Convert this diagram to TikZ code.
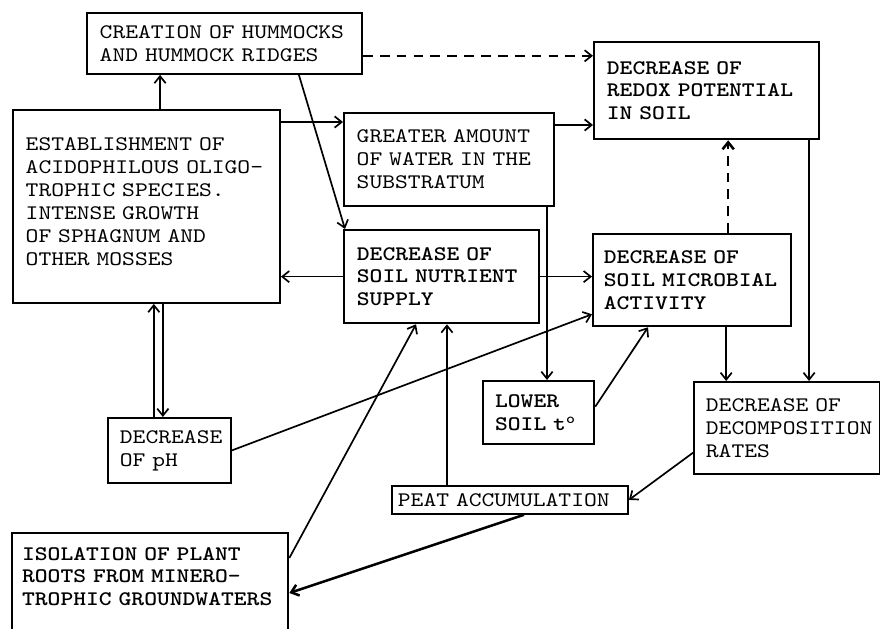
\documentclass[tikz,border=0pt]{standalone}
\usepackage{fontspec}
\setmonofont{lmmono10-regular.otf}[BoldFont=lmmonolt10-bold.otf,FakeStretch=1.18]
\usepackage{tikz}
\usetikzlibrary{arrows,arrows.meta,calc}

\begin{document}
\begin{tikzpicture}[x=0.025cm, y=-0.025cm, >={Straight Barb[length=5pt,width=8pt]},
        plain/.style={draw=black,line width=1.3pt,anchor=north west,align=left,
          inner xsep=0.32cm,inner ysep=3pt,font=\ttfamily\fontsize{14.7}{16.3}\selectfont},
        strong/.style={plain,line width=1.6pt,font=\ttfamily\bfseries\fontsize{14.7}{16.3}\selectfont},
        link/.style={line width=1.2pt},
        hint/.style={line width=1.2pt,dash pattern=on 7pt off 5pt}]
        \clip (0,0) rectangle (880,629);
        % boxes
        \node[plain,text width=6.235cm,minimum height=1.525cm] at (86,12) (hum) {CREATION OF HUMMOCKS\\AND HUMMOCK RIDGES};
        \node[plain,text width=6.035cm,minimum height=4.825cm,text depth=3.1cm] at (12,109) (est) {ESTABLISHMENT OF\\ACIDOPHILOUS OLIGO-\\TROPHIC SPECIES.\\INTENSE GROWTH\\OF SPHAGNUM AND\\OTHER MOSSES};
        \node[plain,text width=4.61cm,minimum height=2.325cm] at (343,112) (wat) {GREATER AMOUNT\\OF WATER IN THE\\SUBSTRATUM};
        \node[strong,text width=4.985cm,minimum height=2.425cm] at (593,41) (red) {DECREASE OF\\REDOX~POTENTIAL\\IN SOIL};
        \node[strong,text width=4.235cm,minimum height=2.325cm] at (343,229) (nut) {DECREASE OF\\SOIL~NUTRIENT\\SUPPLY};
        \node[strong,inner xsep=0.27cm,text width=4.41cm,minimum height=2.3cm] at (592,233) (mic) {DECREASE OF\\SOIL~MICROBIAL\\ACTIVITY};
        \node[plain,inner xsep=0.3cm,text width=2.475cm,minimum height=1.625cm] at (107,417) (ph) {DECREASE\\OF pH};
        \node[strong,inner xsep=0.3cm,text width=2.175cm,minimum height=1.575cm] at (482,380) (low) {LOWER\\SOIL t\textsuperscript{o}};
        \node[plain,inner xsep=0.3cm,text width=4.05cm,minimum height=2.3cm] at (693,381) (dec) {DECREASE OF\\DECOMPOSITION\\RATES};
        \node[plain,inner xsep=0.15cm,inner ysep=2pt,text width=5.6cm,minimum height=0.7cm] at (391,485) (peat) {PEAT ACCUMULATION};
        \node[strong,inner xsep=0.25cm,inner ysep=0.35cm,text width=6.4cm,text depth=3cm] at (11,532) (iso) {ISOLATION OF PLANT\\ROOTS FROM MINERO-\\TROPHIC~GROUNDWATERS};
        % helper points
        \coordinate (w1) at ([yshift=-0.25cm]wat.north west);
        \coordinate (r1) at ([yshift=-0.37cm]red.north west);
        \coordinate (r2) at ([yshift=-0.325cm]wat.north east);
        % links
        \draw[link,->] ([xshift=0.34cm]est.north) -- ([xshift=0.34cm]est.north |- hum.south);
        \draw[link,->] (est.east |- w1) -- (w1);
        \draw[link,->] ([xshift=1.86cm]hum.south) -- ([xshift=0.05cm]nut.north west);
        \draw[hint,->] (hum.east |- r1) -- (r1);
        \draw[link,->] (r2) -- (red.west |- r2);
        \draw[link,->] (nut.west) -- (est.east |- nut.west);
        \draw[link,->] (nut.east) -- (mic.west |- nut.east);
        \draw[hint,line width=1.8pt,->] ([xshift=0.9cm]mic.north) -- ([xshift=0.9cm]mic.north |- red.south);
        \draw[link,->] ([xshift=2.45cm]wat.south) -- ([xshift=2.45cm]wat.south |- low.north);
        \draw[link,->] ([yshift=0.15cm]low.east) -- ([xshift=1.4cm]mic.south west);
        \draw[link,->] ([xshift=0.85cm]mic.south) -- ([xshift=0.85cm]mic.south |- dec.north);
        \draw[link,->] ([xshift=2.56cm]red.south) -- ([xshift=2.56cm]red.south |- dec.north);
        \draw[link,->] ([yshift=-0.62cm]dec.west) -- (peat.east);
        \draw[link,->] ([xshift=-1.575cm]peat.north) -- ([xshift=-1.575cm]peat.north |- nut.south);
        \draw[link,line width=1.8pt,->] ([xshift=0.35cm]peat.south) -- ([yshift=-1.525cm]iso.north east);
        \draw[link,->] ([yshift=-0.65cm]iso.north east) -- ([xshift=-0.64cm]nut.south);
        \draw[link,->] (ph.east) -- ([yshift=0.325cm]mic.south west);
        \draw[link,->] ([xshift=-0.39cm]ph.north) -- ([xshift=-0.39cm]ph.north |- est.south);
        \draw[link,->] ([xshift=0.41cm]est.south) -- ([xshift=0.41cm]est.south |- ph.north);
      \end{tikzpicture}
\end{document}
